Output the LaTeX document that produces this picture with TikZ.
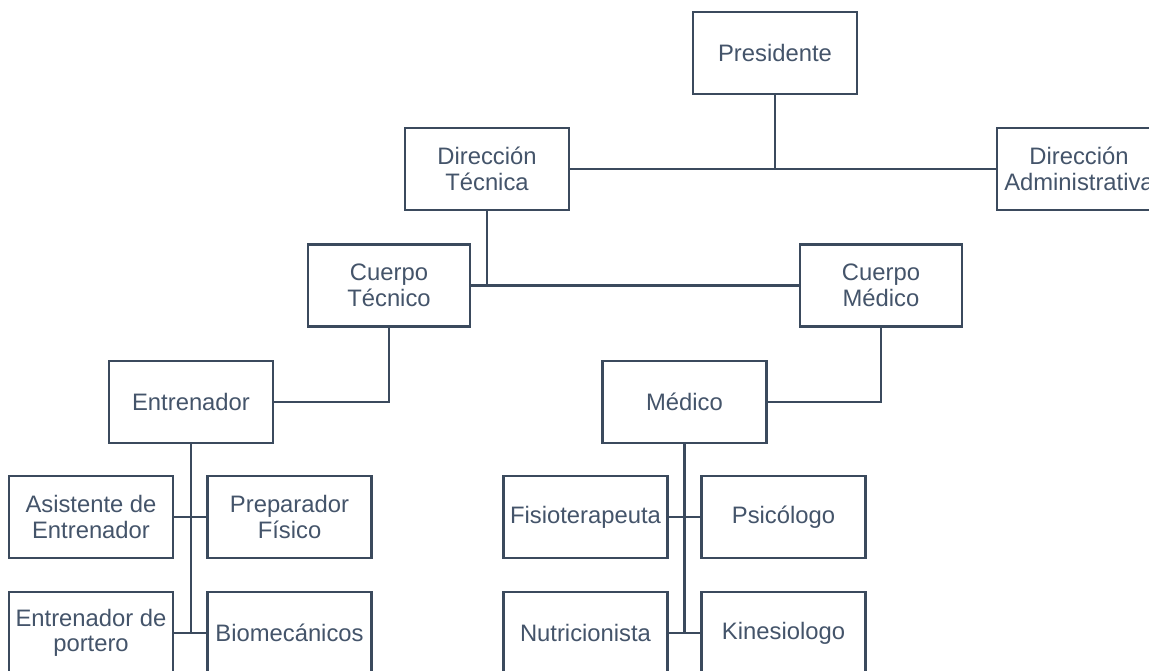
\documentclass[tikz,border=0pt]{standalone}
\usepackage{fontspec}
\setmainfont{Liberation Sans}
\definecolor{ink}{HTML}{44546A}
\definecolor{wire}{HTML}{3B4A5D}
\begin{document}
\begin{tikzpicture}[x=1pt,y=-1pt,
  box/.style={draw=wire, line width=2.8pt, fill=white, minimum width=164pt, minimum height=82pt, inner sep=0pt, align=center, text=ink, font=\fontsize{23.8}{25.5}\selectfont},
  link/.style={draw=wire, line width=2.8pt}]
\useasboundingbox (0,0) rectangle (1149,671);
% level 0/1
\node[box] (pres) at (775,53) {Presidente};
\node[box] (dt) at (487,169) {Dirección\\Técnica};
\node[box] (da) at (1079,169) {Dirección\\Administrativa};
% level 2
\node[box, minimum width=162pt] (ct) at (389,285.5) {Cuerpo\\Técnico};
\node[box, minimum width=162pt] (cm) at (881,285.5) {Cuerpo\\Médico};
% level 3
\node[box] (ent) at (191,402) {Entrenador};
\node[box] (med) at (684.5,402) {Médico};
% level 4
\node[box] (asis) at (91,517) {Asistente de\\Entrenador};
\node[box] (prep) at (289.5,517) {Preparador\\Físico};
\node[box] (port) at (91,633) {Entrenador de\\portero};
\node[box] (bio) at (289.5,633) {Biomecánicos};
\node[box] (fis) at (585.5,517) {Fisioterapeuta};
\node[box] (psi) at (783.5,517) {Psicólogo};
\node[box] (nut) at (585.5,633) {Nutricionista};
\node[box] (kin) at (783.5,633) {Kinesiologo};
% junctions
\coordinate (j1) at (775,169);
\coordinate (j2) at (487,285.5);
\coordinate (j3) at (191,633);
\coordinate (j4) at (684.5,633);
\draw[link] (pres.south) -- (j1);
\draw[link] (dt.east) -- (da.west);
\draw[link] (dt.south) -- (j2);
\draw[link] (ct.east) -- (cm.west);
\draw[link] (ct.south) |- (ent.east);
\draw[link] (cm.south) |- (med.east);
\draw[link] (ent.south) -- (j3);
\draw[link] (asis.east) -- (prep.west);
\draw[link] (port.east) -- (bio.west);
\draw[link] (med.south) -- (j4);
\draw[link] (fis.east) -- (psi.west);
\draw[link] (nut.east) -- (kin.west);
\end{tikzpicture}
\end{document}
